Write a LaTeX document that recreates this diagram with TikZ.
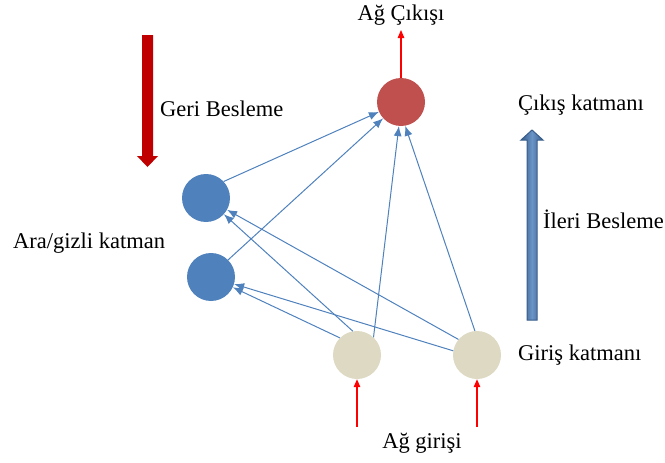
\documentclass[tikz,border=0pt]{standalone}
\usepackage{fontspec}
\setmainfont{Liberation Serif}
\usetikzlibrary{arrows.meta}
\definecolor{outred}{HTML}{C0504D}
\definecolor{hidblue}{HTML}{4F81BD}
\definecolor{inbeige}{HTML}{DDD9C3}
\definecolor{darkred}{HTML}{C00000}
\definecolor{edgeblue}{HTML}{385D8A}
\begin{document}
\begin{tikzpicture}[x=1pt,y=-1pt,
  neuron/.style={circle,minimum size=48pt,inner sep=0pt,draw=none},
  lbl/.style={inner sep=0pt,anchor=base west,font=\fontsize{22.5}{27}\selectfont},
  conn/.style={draw=hidblue,line width=1pt,-{Latex[length=10pt,width=8pt]}},
  redarr/.style={draw=red,line width=1.2pt,-{Triangle[length=8pt,width=6.5pt]}}]
\useasboundingbox (0,0) rectangle (665,463);
% neurons
\node[neuron,fill=outred] (O) at (401,102) {};
\node[neuron,fill=hidblue] (H1) at (206,198) {};
\node[neuron,fill=hidblue] (H2) at (211,277) {};
\node[neuron,fill=inbeige] (I1) at (357,355) {};
\node[neuron,fill=inbeige] (I2) at (477,355) {};
% connections
\draw[conn] (H1.43) -- (O);
\draw[conn] (H2.45) -- (O);
\draw[conn] (I1.47) -- (O.-95);
\draw[conn] (I2.95) -- (O.-80);
\draw[conn] (I1.100) -- (H1);
\draw[conn] (I1.135) -- (H2);
\draw[conn] (I2.140) -- (H1);
\draw[conn] (I2.170) -- (H2);
% input / output arrows
\coordinate (in1) at (357,427);
\coordinate (in2) at (477,427);
\coordinate (out) at (401,30);
\draw[redarr] (in1) -- (I1);
\draw[redarr] (in2) -- (I2);
\draw[redarr] (O) -- (out);
% big arrows
\fill[darkred] (142,35) -- (153,35) -- (153,156) -- (158,156) -- (147.5,167) -- (137,156) -- (142,156) -- cycle;
\shade[left color=edgeblue,right color=edgeblue,middle color=hidblue!85!white] (527,320) -- (537,320) -- (537,140) -- (543,140) -- (532,130) -- (521,140) -- (527,140) -- cycle;
\draw[edgeblue,line width=1pt] (527,320) -- (537,320) -- (537,140) -- (543,140) -- (532,130) -- (521,140) -- (527,140) -- cycle;
% labels
\node[lbl,anchor=base] (tout) at (401,20) {Ağ Çıkışı};
\node[lbl] (tgeri) at (160,116) {Geri Besleme};
\node[lbl] (tcikis) at (518,110) {Çıkış katmanı};
\node[lbl] (tileri) at (543,228) {İleri Besleme};
\node[lbl] (tara) at (13,248) {Ara/gizli katman};
\node[lbl] (tgiris) at (518,360) {Giriş katmanı};
\node[lbl,anchor=base] (tin) at (422,448) {Ağ girişi};
\end{tikzpicture}
\end{document}
